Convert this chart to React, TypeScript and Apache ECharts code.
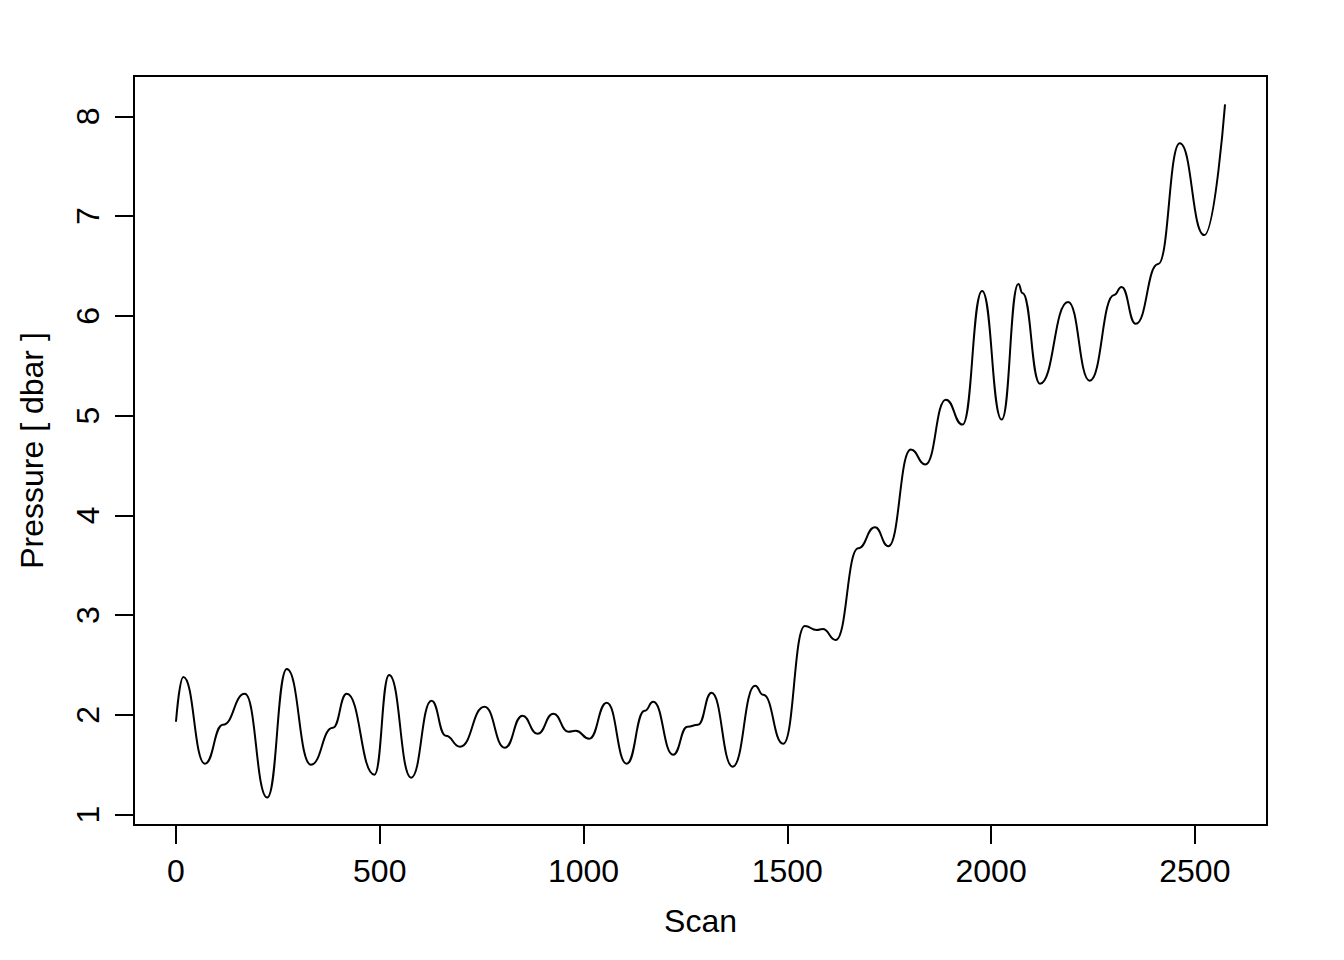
import React, { useEffect, useRef } from "react";
import * as echarts from "echarts";

// Scan numbers of the curve's turning points and shoulders
const scans: number[] = [
  0, 18, 71, 115, 169, 224, 272, 331, 385, 419, 487, 523, 577, 627, 662, 697,
  757, 807, 850, 887, 926, 963, 981, 1014, 1057, 1106, 1150, 1171, 1220, 1255,
  1281, 1314, 1366, 1421, 1441, 1490, 1543, 1572, 1587, 1619, 1674, 1715,
  1748, 1803, 1839, 1889, 1930, 1978, 2026, 2067, 2077, 2120, 2189, 2242,
  2302, 2320, 2355, 2410, 2463, 2523, 2574,
];
// Pressure [dbar] at those scans
const pressure: number[] = [
  1.93, 2.38, 1.51, 1.9, 2.21, 1.17, 2.46, 1.5, 1.87, 2.21, 1.4, 2.4, 1.37, 2.14,
  1.79, 1.68, 2.08, 1.67, 1.99, 1.81, 2.01, 1.83, 1.84, 1.76, 2.12, 1.51, 2.04,
  2.13, 1.6, 1.88, 1.9, 2.22, 1.48, 2.29, 2.2, 1.71, 2.89, 2.85, 2.86, 2.75,
  3.67, 3.88, 3.69, 4.66, 4.51, 5.16, 4.91, 6.25, 4.96, 6.32, 6.23, 5.32,
  6.14, 5.35, 6.21, 6.29, 5.92, 6.52, 7.73, 6.81, 8.12,
];
const xTicks: number[] = [0, 500, 1000, 1500, 2000, 2500];
const yTicks: number[] = [1, 2, 3, 4, 5, 6, 7, 8];

const FONT = "'Liberation Sans', Arial, Helvetica, sans-serif";

export default function App() {
  const ref = useRef<HTMLDivElement>(null);
  useEffect(() => {
    if (!ref.current) return;
    const chart = echarts.init(ref.current, null, { renderer: "svg" });
    const data = scans.map((s, i) => [s, pressure[i]]);
    chart.setOption({
      animation: false,
      backgroundColor: "#ffffff",
      grid: {
        left: 134,
        right: 77,
        top: 76,
        bottom: 135,
        show: true,
        borderColor: "#000000",
        borderWidth: 2,
        backgroundColor: "transparent",
      },
      xAxis: {
        type: "value",
        min: -103,
        max: 2677,
        name: "Scan",
        nameLocation: "middle",
        nameGap: 96,
        nameTextStyle: {
          fontFamily: FONT,
          fontSize: 32,
          color: "#000",
          verticalAlign: "middle",
        },
        splitLine: { show: false },
        axisLine: { show: false, onZero: false },
        axisTick: {
          show: true,
          inside: false,
          length: 19,
          customValues: xTicks,
          lineStyle: { color: "#000", width: 2 },
        },
        axisLabel: {
          show: true,
          customValues: xTicks,
          formatter: (v: number) => String(v),
          margin: 46,
          fontFamily: FONT,
          fontSize: 32,
          color: "#000",
          verticalAlign: "middle",
        },
      },
      yAxis: {
        type: "value",
        min: 0.895,
        max: 8.405,
        name: "Pressure [ dbar ]",
        nameLocation: "middle",
        nameGap: 102,
        nameRotate: 90,
        nameTextStyle: {
          fontFamily: FONT,
          fontSize: 32,
          color: "#000",
          verticalAlign: "middle",
        },
        splitLine: { show: false },
        axisLine: { show: false, onZero: false },
        axisTick: {
          show: true,
          inside: false,
          length: 19,
          customValues: yTicks,
          lineStyle: { color: "#000", width: 2 },
        },
        axisLabel: {
          show: true,
          customValues: yTicks,
          formatter: (v: number) => String(v),
          rotate: 90,
          margin: 46,
          fontFamily: FONT,
          fontSize: 32,
          color: "#000",
          align: "center",
          verticalAlign: "middle",
        },
      },
      series: [
        {
          type: "line",
          data,
          showSymbol: false,
          symbol: "none",
          smooth: 0.5,
          smoothMonotone: "x",
          lineStyle: { color: "#000", width: 2 },
        },
      ],
    });
    return () => chart.dispose();
  }, []);
  return (
    <div
      ref={ref}
      style={{ position: "absolute", left: 0, top: 0, width: 1344, height: 960 }}
    />
  );
}
